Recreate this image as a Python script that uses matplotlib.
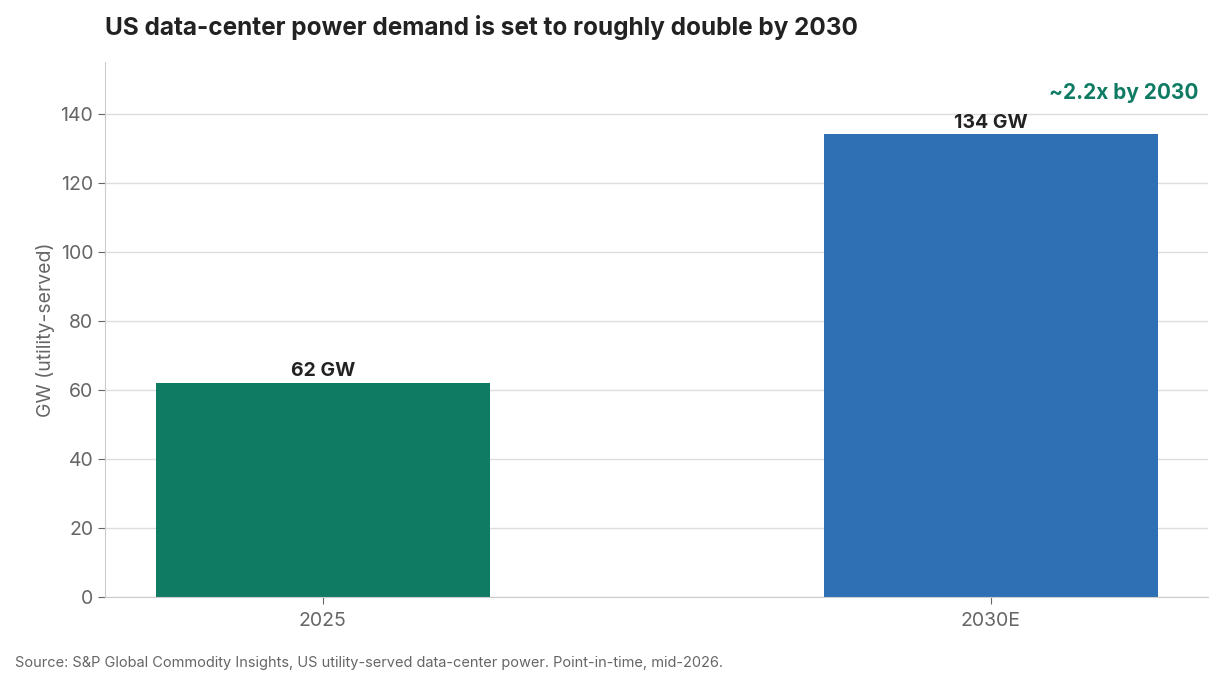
import matplotlib
matplotlib.use("Agg")
import matplotlib.pyplot as plt

categories = ["2025", "2030E"]
values = [62, 134]
labels = ["62 GW", "134 GW"]
colors = ["#0f7b63", "#2f6fb3"]
yticks = [0, 20, 40, 60, 80, 100, 120, 140]

plt.rcParams["font.family"] = ["Inter", "DejaVu Sans"]

fig = plt.figure(figsize=(12.22, 6.89), dpi=100)
ax = fig.add_axes([105 / 1222, 1 - 597 / 689, 1103 / 1222, 535 / 689])

x = list(range(len(categories)))
ax.bar(x, values, width=0.5, color=colors, zorder=2)
for xi, v, lab in zip(x, values, labels):
    ax.text(xi, v + 0.8, lab, ha="center", va="bottom", fontsize=14,
            fontweight="bold", color="#222222")

ax.set_xlim(-0.326, 1.325)
ax.set_ylim(0, 155)
ax.set_yticks(yticks)
ax.set_xticks(x, categories)
ax.tick_params(axis="both", labelsize=14, colors="#666666", length=5)
ax.tick_params(axis="x", pad=6)
ax.set_ylabel("GW (utility-served)", fontsize=14, color="#666666")
ax.grid(axis="y", color="#dddddd", linewidth=1, zorder=0)
for s in ["top", "right"]:
    ax.spines[s].set_visible(False)
for s in ["left", "bottom"]:
    ax.spines[s].set_color("#cccccc")

ax.text(1.31, 146, "~2.2x by 2030", ha="right", va="center", fontsize=15,
        fontweight="bold", color="#0f7b63")

fig.text(105 / 1222, 1 - 28 / 689, "US data-center power demand is set to roughly double by 2030",
         fontsize=17.5, fontweight="bold", color="#222222", va="center")
fig.text(15 / 1222, 1 - 663 / 689,
         "Source: S&P Global Commodity Insights, US utility-served data-center power. Point-in-time, mid-2026.",
         fontsize=10.5, color="#666666", va="center")

fig.savefig("out.png", dpi=100)
